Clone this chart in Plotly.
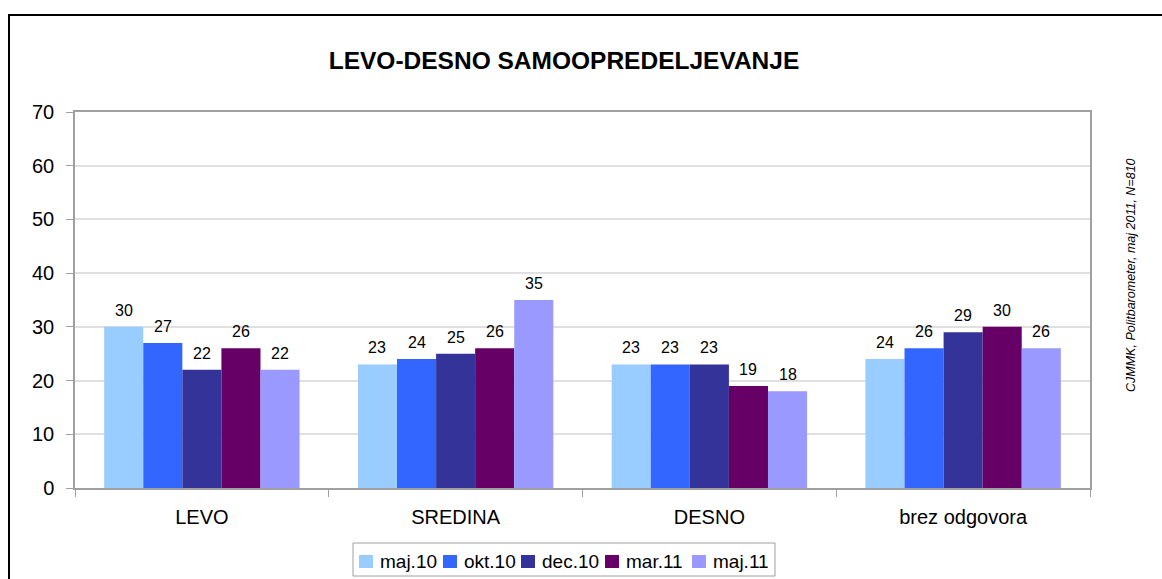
import plotly.graph_objects as go

# Categories and survey waves
categories = ["LEVO", "SREDINA", "DESNO", "brez odgovora"]
waves = ["maj.10", "okt.10", "dec.10", "mar.11", "maj.11"]
colors = ["#99CCFF", "#3366FF", "#333399", "#660066", "#9999FF"]

# Shares (%) per wave, in category order
maj10 = [30, 23, 23, 24]
okt10 = [27, 24, 23, 26]
dec10 = [22, 25, 23, 29]
mar11 = [26, 26, 19, 30]
maj11 = [22, 35, 18, 26]
series = [maj10, okt10, dec10, mar11, maj11]

y_ticks = [0, 10, 20, 30, 40, 50, 60, 70]

W, H = 1162, 579
L, R, T, B = 75, 72, 112, 91
PW, PH = W - L - R, H - T - B
FONT = "Liberation Sans, Arial, sans-serif"
BARGAP = 0.23


def px_x(px):
    return (px - L) / PW


def px_y(py):
    return (H - B - py) / PH


fig = go.Figure()
for name, vals, col in zip(waves, series, colors):
    fig.add_trace(go.Bar(name=name, x=categories, y=vals, marker=dict(color=col, line=dict(width=0)),
                         showlegend=False, hoverinfo="x+y+name"))

# value labels above each bar, centred on the bar's slot in the group
annotations = []
n = len(waves)
slot = (1 - BARGAP) / n
for j, vals in enumerate(series):
    for i, v in enumerate(vals):
        xc = i - (1 - BARGAP) / 2 + (j + 0.5) * slot
        annotations.append(dict(x=xc, y=v, xref="x", yref="y", text=f"{v:d}",
                                showarrow=False, yanchor="bottom", yshift=6,
                                font=dict(family=FONT, size=16, color="#000000")))

# source note on the right, rotated
annotations.append(dict(x=px_x(1131), y=px_y(275), xref="paper", yref="paper",
                        text="CJMMK, Politbarometer, maj 2011, N=810", textangle=-90,
                        showarrow=False, xanchor="center", yanchor="middle",
                        font=dict(family=FONT, size=12.5, color="#000000", style="italic")))

shapes = []
# outer chart frame (left and top edges)
shapes.append(dict(type="line", xref="paper", yref="paper", x0=px_x(9), x1=px_x(9),
                   y0=px_y(15), y1=px_y(H + 5), line=dict(color="#000000", width=2)))
shapes.append(dict(type="line", xref="paper", yref="paper", x0=px_x(8), x1=px_x(W + 5),
                   y0=px_y(15), y1=px_y(15), line=dict(color="#000000", width=2)))

# legend box with swatches and names
shapes.append(dict(type="rect", xref="paper", yref="paper", x0=px_x(353), x1=px_x(775),
                   y0=px_y(543), y1=px_y(576), line=dict(color="#a0a0a0", width=1),
                   fillcolor="#ffffff"))
swatch_x = [359, 443, 521, 605, 692]
text_x = [378, 462, 540, 624, 711]
for name, col, sx, tx in zip(waves, colors, swatch_x, text_x):
    shapes.append(dict(type="rect", xref="paper", yref="paper", x0=px_x(sx), x1=px_x(sx + 14),
                       y0=px_y(555), y1=px_y(568), line=dict(width=0), fillcolor=col))
    annotations.append(dict(x=px_x(tx), y=px_y(561), xref="paper", yref="paper", text=name,
                            showarrow=False, xanchor="left", yanchor="middle",
                            font=dict(family=FONT, size=19, color="#000000")))

fig.update_layout(
    width=W, height=H, autosize=False,
    margin=dict(l=L, r=R, t=T, b=B, pad=0),
    paper_bgcolor="#ffffff", plot_bgcolor="#ffffff",
    barmode="group", bargap=BARGAP, bargroupgap=0,
    showlegend=False,
    font=dict(family=FONT, color="#000000"),
    title=dict(text="<b>LEVO-DESNO SAMOOPREDELJEVANJE</b>", x=564 / W, xref="container",
               xanchor="center", y=1 - 60 / H, yref="container", yanchor="middle",
               font=dict(family=FONT, size=24.5, color="#000000")),
    annotations=annotations,
    shapes=shapes,
)

fig.update_xaxes(
    type="category", categoryorder="array", categoryarray=categories,
    tickson="boundaries", ticks="outside", ticklen=7, tickcolor="#a0a0a0",
    showline=True, linecolor="#a0a0a0", linewidth=1.5, mirror=True,
    showgrid=False, tickfont=dict(family=FONT, size=20, color="#000000"),
    ticklabelstandoff=10,
)
fig.update_yaxes(
    range=[0, 70], tickvals=y_ticks, ticktext=[str(v) for v in y_ticks],
    ticks="outside", ticklen=7, tickcolor="#a0a0a0",
    showline=True, linecolor="#a0a0a0", linewidth=1.5, mirror=True,
    showgrid=True, gridcolor="#e0e0e0", gridwidth=1.5, zeroline=False,
    tickfont=dict(family=FONT, size=20, color="#000000"),
    ticklabelstandoff=8,
)

fig.write_html("out.html")
